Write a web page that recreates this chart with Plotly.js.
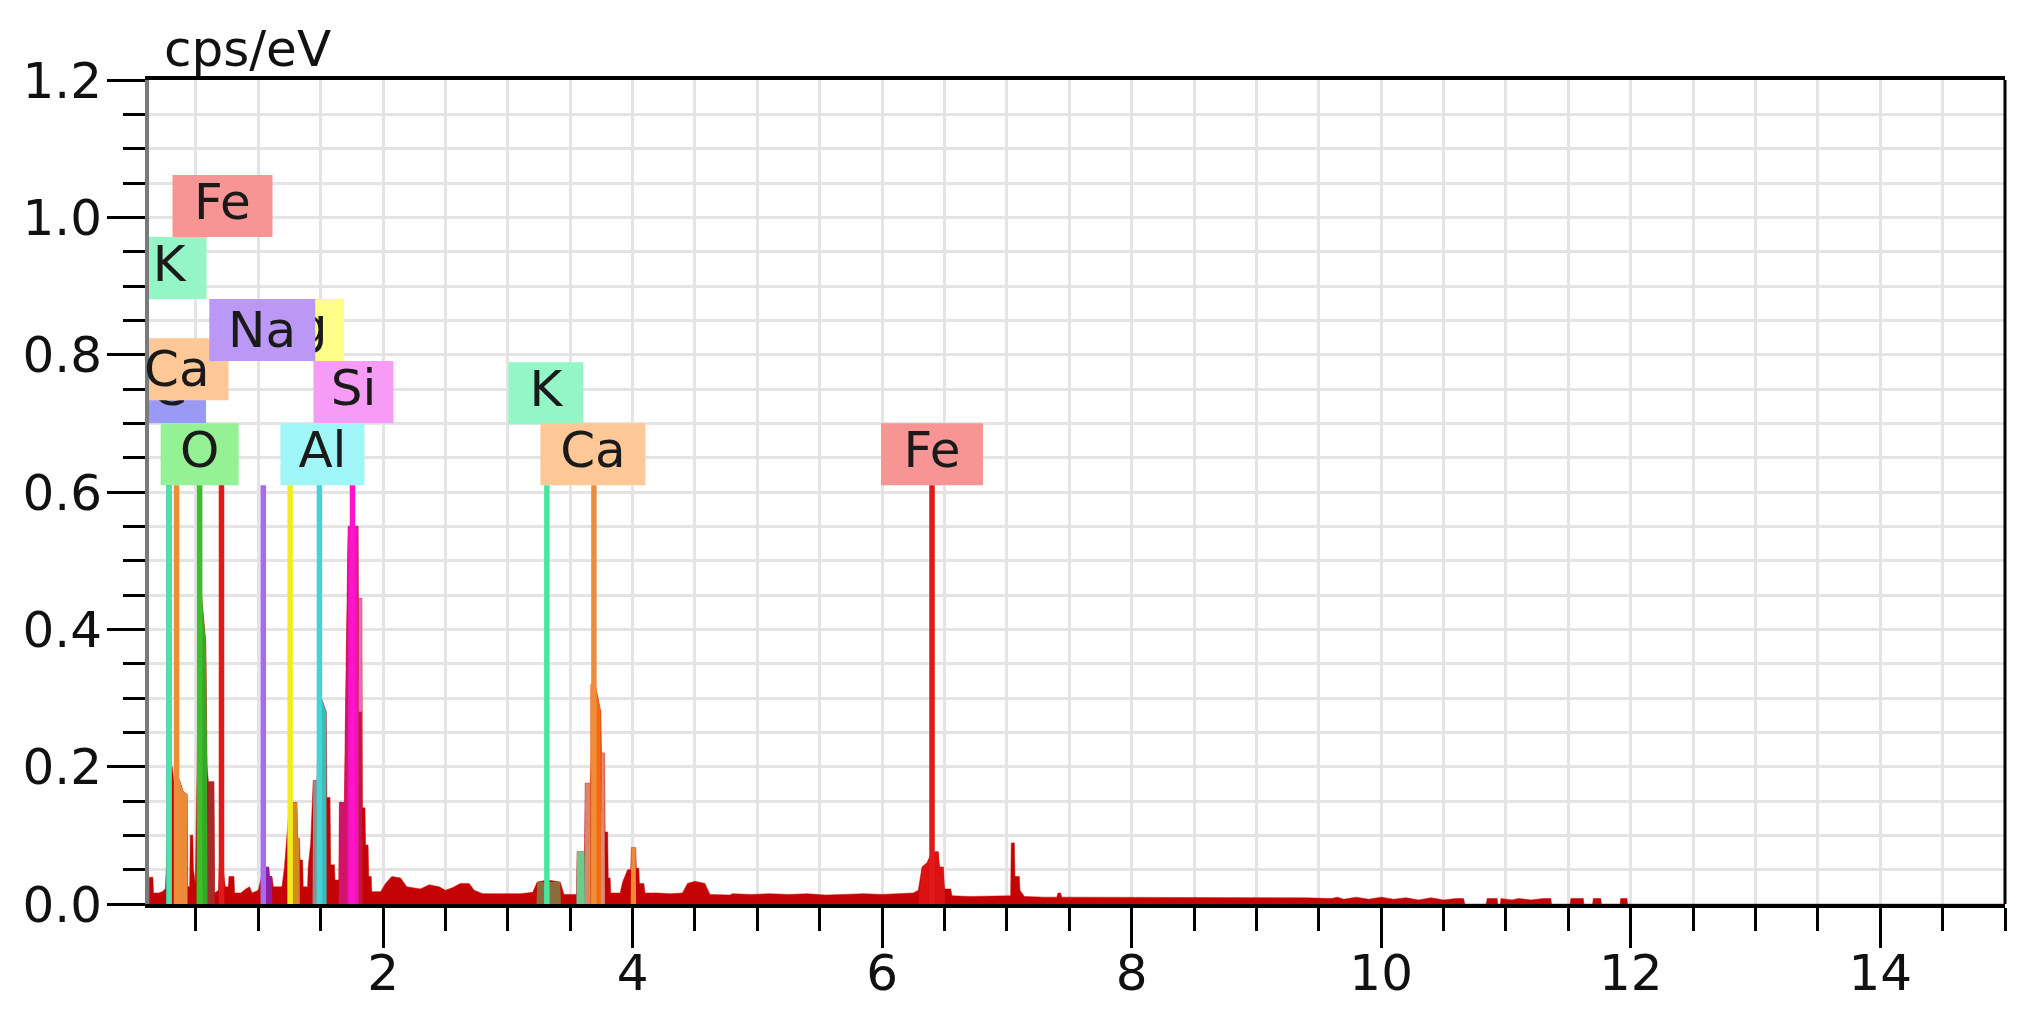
<!DOCTYPE html>
<html><head><meta charset="utf-8">
<script src="https://cdn.plot.ly/plotly-3.0.1.min.js"></script>
<style>html,body{margin:0;padding:0;background:#fff}#chart{width:2041px;height:1023px}</style>
</head><body><div id="chart"></div>
<script>
// ---------------- DATA ----------------
// Measured EDS spectrum: energy (keV) and intensity (cps/eV)
const specKeV = [0.125,0.155,0.16,0.20,0.23,0.255,0.27,0.285,0.31,0.33,0.345,0.37,0.40,0.43,0.435,0.45,0.455,0.475,0.48,0.495,
  0.51,0.53,0.55,0.57,0.58,0.59,0.60,0.645,0.65,0.68,0.70,0.72,0.735,0.76,0.765,0.805,0.81,0.86,0.90,0.93,0.95,1.00,1.025,1.04,
  1.06,1.085,1.09,1.11,1.12,1.19,1.21,1.255,1.27,1.31,1.315,1.33,1.335,1.355,1.36,1.395,1.40,1.42,1.44,1.47,1.49,1.505,1.545,
  1.55,1.575,1.58,1.61,1.615,1.645,1.65,1.69,1.70,1.72,1.80,1.802,1.83,1.835,1.855,1.86,1.88,1.885,1.905,1.91,1.98,2.02,2.07,
  2.14,2.19,2.30,2.37,2.45,2.50,2.56,2.62,2.69,2.73,2.80,2.95,3.10,3.20,3.235,3.32,3.42,3.45,3.55,3.555,3.615,3.62,3.66,3.70,
  3.745,3.75,3.775,3.78,3.80,3.805,3.82,3.825,3.90,3.92,3.96,3.985,3.99,4.025,4.03,4.05,4.055,4.09,4.10,4.20,4.30,4.40,4.44,
  4.50,4.58,4.62,4.70,4.78,4.80,4.95,5.10,5.25,5.40,5.55,5.70,5.85,6.00,6.15,6.25,6.29,6.32,6.36,6.40,6.45,6.46,6.49,6.50,6.55,
  6.56,6.70,6.85,7.00,7.03,7.035,7.06,7.065,7.10,7.105,7.14,7.30,7.40,7.41,7.43,7.44,7.80,8.20,8.60,9.00,9.40,9.60,9.65,9.70,
  9.80,9.90,10.00,10.10,10.20,10.30,10.40,10.50,10.60,10.66,10.67,10.84,10.85,10.93,10.935,10.955,10.96,11.05,11.10,11.20,
  11.30,11.36,11.365,11.515,11.52,11.62,11.625,11.695,11.70,11.76,11.765,11.915,11.92,11.97,11.975,15.0];
const specCps = [0.039,0.039,0.016,0.016,0.018,0.022,0.08,0.21,0.20,0.17,0.19,0.18,0.163,0.16,0.025,0.025,0.10,0.10,0.05,0.03,
  0.20,0.50,0.44,0.40,0.38,0.20,0.178,0.178,0.016,0.02,0.12,0.05,0.025,0.025,0.04,0.04,0.016,0.016,0.022,0.025,0.016,0.02,0.04,0.06,
  0.054,0.054,0.04,0.04,0.025,0.025,0.054,0.16,0.148,0.148,0.096,0.096,0.064,0.064,0.025,0.025,0.054,0.089,0.18,0.18,0.33,0.30,0.28,
  0.155,0.155,0.057,0.057,0.035,0.035,0.148,0.148,0.30,0.55,0.55,0.445,0.445,0.14,0.14,0.086,0.086,0.04,0.04,0.018,0.018,0.03,0.04,
  0.038,0.025,0.022,0.028,0.025,0.02,0.024,0.03,0.03,0.02,0.015,0.015,0.015,0.017,0.032,0.035,0.032,0.014,0.014,0.076,0.076,0.176,0.176,0.32,
  0.28,0.22,0.22,0.105,0.105,0.038,0.038,0.016,0.016,0.032,0.05,0.05,0.082,0.082,0.052,0.052,0.03,0.03,0.016,0.016,0.015,0.016,0.03,
  0.033,0.03,0.014,0.013,0.013,0.015,0.014,0.015,0.014,0.015,0.013,0.014,0.015,0.014,0.015,0.016,0.02,0.054,0.06,0.076,0.076,0.054,0.054,0.022,0.022,
  0.012,0.011,0.011,0.011,0.012,0.089,0.089,0.04,0.04,0.02,0.011,0.01,0.01,0.016,0.016,0.01,0.01,0.01,0.01,0.009,0.009,0.008,0.01,0.007,
  0.01,0.007,0.01,0.007,0.009,0.006,0.009,0.006,0.008,0.008,0,0,0.008,0.008,0,0,0.008,0.006,0.008,0.006,
  0.008,0.008,0,0,0.008,0.008,0,0,0.008,0.008,0,0,0.008,0.008,0,0];

// Element-coloured parts of the spectrum (peak deconvolution shading)
const ovKL_keV = [0.36,0.362,0.393,0.395],            ovKL_cps = [0,0.076,0.076,0];
const ovCaL_keV = [0.34,0.345,0.37,0.40,0.43,0.433], ovCaL_cps = [0,0.19,0.18,0.163,0.16,0];
const ovO_keV = [0.505,0.51,0.53,0.55,0.57,0.58,0.59,0.595], ovO_cps = [0,0.20,0.50,0.44,0.40,0.38,0.20,0];
const ovFeL_keV = [0.595,0.60,0.645,0.65],           ovFeL_cps = [0,0.178,0.178,0];
const ovNa_keV = [1.045,1.05,1.085,1.09,1.11,1.112], ovNa_cps = [0,0.054,0.054,0.04,0.04,0];
const ovMg_keV = [1.265,1.27,1.31,1.315,1.33,1.333], ovMg_cps = [0,0.148,0.148,0.096,0.096,0];
const ovAl1_keV = [1.435,1.44,1.47,1.475],           ovAl1_cps = [0,0.18,0.18,0];
const ovAl2_keV = [1.50,1.505,1.545,1.548],          ovAl2_cps = [0,0.30,0.28,0];
const ovSi1_keV = [1.645,1.65,1.69,1.70,1.72,1.80,1.802,1.83,1.833], ovSi1_cps = [0,0.148,0.148,0.30,0.55,0.55,0,0,0];
const ovSi2_keV = [1.802,1.804,1.83,1.832],          ovSi2_cps = [0,0.445,0.445,0];
const ovSi3_keV = [1.802,1.804,1.83,1.833],          ovSi3_cps = [0,0.28,0.28,0];
const ovSi4_keV = [1.715,1.72,1.795,1.80],           ovSi4_cps = [0,0.55,0.55,0];
const ovKa_keV = [3.23,3.235,3.42,3.425],            ovKa_cps = [0,0.032,0.032,0];
const ovKb_keV = [3.55,3.555,3.615,3.618],           ovKb_cps = [0,0.076,0.076,0];
const ovCa1_keV = [3.618,3.62,3.66,3.662],           ovCa1_cps = [0,0.176,0.176,0];
const ovCa2_keV = [3.66,3.662,3.70,3.745,3.748],     ovCa2_cps = [0,0.32,0.32,0.28,0];
const ovCa3_keV = [3.745,3.75,3.775,3.778],          ovCa3_cps = [0,0.22,0.22,0];
const ovCaB_keV = [3.985,3.99,4.025,4.028],          ovCaB_cps = [0,0.082,0.082,0];
const ovFe_keV = [6.29,6.32,6.36,6.40,6.45,6.46,6.49,6.50,6.505], ovFe_cps = [0,0.054,0.06,0.076,0.076,0.054,0.054,0.022,0];

// Element marker lines (energy in keV) and their labels
const lineElem = ['C','K','Ca','O','Fe','Na','Mg','Al','Si','K','Ca','Fe'];
const lineKeV  = [0.285,0.285,0.345,0.53,0.705,1.04,1.255,1.49,1.755,3.313,3.69,6.40];
const labelText = ['Fe','K','C','Ca','Mg','Na','Si','O','Al','K','Ca','Fe'];
const labelKeV  = [0.705,0.285,0.285,0.345,1.255,1.04,1.755,0.53,1.49,3.313,3.69,6.40];

// Axis ticks
const xTickVals = [2,4,6,8,10,12,14];
const yTickVals = [0,0.2,0.4,0.6,0.8,1.0,1.2];

// ---------------- STYLE / LAYOUT (not data) ----------------
const FONT = 'DejaVu Sans';
const lineColor = {C:'#6a6af0',K:'#48e6a0',Ca:'#ee8c3a',O:'#3cbf2a',Fe:'#e01a1a',Na:'#a46cf0',Mg:'#f2ee1e',Al:'#44d4d4',Si:'#ff14c8'};
const boxColor  = {C:'#9a9af6',K:'#94f5c6',Ca:'#ffc896',O:'#94f294',Fe:'#f79494',Na:'#bc98f6',Mg:'#ffff88',Al:'#a0f6f6',Si:'#f69cf6'};
const overlays = [
  [ovKL_keV,ovKL_cps,'#5cc9a0'],[ovCaL_keV,ovCaL_cps,'#ec8a38'],[ovO_keV,ovO_cps,'#36a826'],[ovFeL_keV,ovFeL_cps,'#a52a2a'],
  [ovNa_keV,ovNa_cps,'#8e1e9e'],[ovMg_keV,ovMg_cps,'#d68a1e'],[ovAl1_keV,ovAl1_cps,'#8e8e8e'],[ovAl2_keV,ovAl2_cps,'#3cb9b9'],
  [ovSi1_keV,ovSi1_cps,'#d3126c'],[ovSi2_keV,ovSi2_cps,'#e46cc4'],[ovSi3_keV,ovSi3_cps,'#c81050'],[ovSi4_keV,ovSi4_cps,'#f012be'],
  [ovKa_keV,ovKa_cps,'#8a6c3a'],[ovKb_keV,ovKb_cps,'#6acb8c'],[ovCa1_keV,ovCa1_cps,'#d6876e'],[ovCa2_keV,ovCa2_cps,'#f26a12'],
  [ovCa3_keV,ovCa3_cps,'#dd8c72'],[ovCaB_keV,ovCaB_cps,'#ee8a30'],[ovFe_keV,ovFe_cps,'#dc1212']
];
// label box layout: row (0 = lowest), pixel width, pixel x-offset, drawn above traces?
const ROW_BASE = 0.61, ROW_H = 0.0903, LINE_TOP = 0.61;
const labelLayout = [
  {row:4,w:100,dx:1},{row:3,w:75,dx:0},{row:1,w:74,dx:0},{row:1.37,w:104,dx:0,top:true},
  {row:2,w:108,dx:0},{row:2,w:106,dx:-1,top:true},{row:1,w:80,dx:1},{row:0,w:78,dx:0},
  {row:0,w:84,dx:3},{row:0.98,w:75,dx:-1},{row:0,w:105,dx:-1},{row:0,w:102,dx:0}
];

const X_RANGE = [0.124, 15], Y_RANGE = [0, 1.2];
const M = {l:149, r:36, t:80, b:119};
const pxPerKeV = (2041 - M.l - M.r) / (X_RANGE[1] - X_RANGE[0]);

const traces = [];
traces.push({x:specKeV, y:specCps, type:'scatter', mode:'lines', fill:'tozeroy',
  line:{color:'#c40404', width:0.5}, fillcolor:'#c40404', hoverinfo:'skip'});
overlays.forEach(o => traces.push({x:o[0], y:o[1], type:'scatter', mode:'lines', fill:'tozeroy',
  line:{color:o[2], width:0}, fillcolor:o[2], hoverinfo:'skip'}));
lineElem.forEach((el,i) => traces.push({x:[lineKeV[i],lineKeV[i]], y:[0,LINE_TOP], type:'scatter', mode:'lines',
  line:{color:lineColor[el], width:5.5}, hoverinfo:'skip'}));

const shapes = [], annotations = [];
const tx=[], ty=[], tt=[];
labelText.forEach((lab,i) => {
  const L = labelLayout[i];
  const y0 = ROW_BASE + L.row*ROW_H, y1 = y0 + ROW_H;
  shapes.push({type:'rect', layer: L.top ? 'above' : 'between', xref:'x', yref:'y', xsizemode:'pixel',
    xanchor: labelKeV[i], x0: -L.w/2 + L.dx, x1: L.w/2 + L.dx, y0:y0, y1:y1, fillcolor: boxColor[lab], line:{width:0}});
  const xc = labelKeV[i] + L.dx/pxPerKeV, yc = (y0+y1)/2;
  if (L.top) {
    annotations.push({x:xc, y:yc, xref:'x', yref:'y', text:lab, showarrow:false, xanchor:'center', yanchor:'middle',
      font:{family:FONT, size:50, color:'#1a1a1a'}});
  } else { tx.push(xc); ty.push(yc); tt.push(lab); }
});
traces.push({x:tx, y:ty, text:tt, type:'scatter', mode:'text', textposition:'middle center',
  textfont:{family:FONT, size:50, color:'#1a1a1a'}, hoverinfo:'skip', cliponaxis:true});

shapes.push({type:'line', xref:'paper', yref:'paper', x0:1, x1:1, y0:0, y1:1, layer:'above', line:{color:'#000', width:3}});
annotations.push({xref:'paper', yref:'paper', x:0.007, y:1, xanchor:'left', yanchor:'bottom', text:'cps/eV', showarrow:false,
  font:{family:FONT, size:50, color:'#111'}});

const grid = '#e4e4e4';
const layout = {
  width:2041, height:1023, margin:M, paper_bgcolor:'#fff', plot_bgcolor:'#fff', showlegend:false, hovermode:false,
  font:{family:FONT, size:50, color:'#111'},
  xaxis:{range:X_RANGE, tickvals:xTickVals, ticktext:xTickVals.map(String), ticks:'outside', ticklen:40, tickwidth:3, tickcolor:'#000',
    ticklabelstandoff:-18,
    showgrid:true, gridcolor:grid, gridwidth:3, zeroline:false, showline:true, linecolor:'#000', linewidth:4, mirror:true,
    tickfont:{family:FONT, size:50, color:'#111'},
    minor:{dtick:0.5, tick0:0, ticks:'outside', ticklen:23, tickwidth:3, tickcolor:'#000', showgrid:true, gridcolor:grid, gridwidth:3}},
  yaxis:{range:Y_RANGE, tickvals:yTickVals, ticktext:yTickVals.map(v=>v.toFixed(1)), ticks:'outside', ticklen:38, tickwidth:3, tickcolor:'#000',
    ticklabelstandoff:-5,
    showgrid:true, gridcolor:grid, gridwidth:3, zeroline:false, showline:true, linecolor:'#7a7a7a', linewidth:4,
    tickfont:{family:FONT, size:50, color:'#111'},
    minor:{dtick:0.05, tick0:0, ticks:'outside', ticklen:22, tickwidth:3, tickcolor:'#000', showgrid:true, gridcolor:grid, gridwidth:3}},
  shapes:shapes, annotations:annotations
};
Plotly.newPlot('chart', traces, layout, {staticPlot:true, displayModeBar:false});
</script></body></html>
